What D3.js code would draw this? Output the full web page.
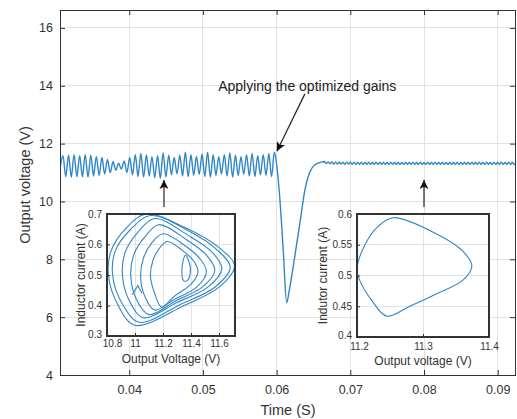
<!DOCTYPE html>
<html>
<head>
<meta charset="utf-8">
<script src="https://cdnjs.cloudflare.com/ajax/libs/d3/7.8.5/d3.min.js"></script>
<style>
body{margin:0;background:#fff;}
svg{display:block;font-family:"Liberation Sans",Arial,Helvetica,sans-serif;}
</style>
</head>
<body>
<div id="graph"></div>
<script>
// main axis ticks
const xTicks = [0.04,0.05,0.06,0.07,0.08,0.09];
const yTicks = [4,6,8,10,12,14,16];

// output voltage before the gains are applied (peaks and troughs)
const preTime = [0.03060,
	0.03100,0.03138,0.03176,0.03213,0.03251,0.03289,0.03327,0.03364,0.03402,0.03440,
	0.03478,0.03515,0.03553,0.03591,0.03629,0.03666,0.03704,0.03742,0.03780,0.03817,
	0.03855,0.03893,0.03931,0.03968,0.04006,0.04044,0.04082,0.04119,0.04157,0.04195,
	0.04233,0.04270,0.04308,0.04346,0.04384,0.04421,0.04459,0.04497,0.04535,0.04572,
	0.04610,0.04648,0.04686,0.04723,0.04761,0.04799,0.04837,0.04874,0.04912,0.04950,
	0.04988,0.05025,0.05063,0.05101,0.05139,0.05176,0.05214,0.05252,0.05290,0.05327,
	0.05365,0.05403,0.05441,0.05478,0.05516,0.05554,0.05592,0.05629,0.05667,0.05705,
	0.05743,0.05780,0.05818,0.05856,0.05894,0.05931,0.05969];
const preVolt = [11.15,
	11.58,10.86,11.60,10.84,11.62,10.86,11.58,10.85,11.62,10.84,
	11.60,10.88,11.56,10.90,11.52,10.95,11.45,11.00,11.38,11.08,
	11.32,11.12,11.40,11.00,11.52,10.92,11.62,10.86,11.66,10.84,
	11.62,10.88,11.55,10.82,11.58,10.80,11.68,10.85,11.60,10.92,
	11.52,10.96,11.60,10.88,11.70,10.86,11.62,10.90,11.56,10.94,
	11.64,10.86,11.70,10.84,11.62,10.90,11.55,10.95,11.62,10.88,
	11.68,10.84,11.60,10.90,11.55,10.94,11.62,10.88,11.66,10.86,
	11.58,10.92,11.62,10.90,11.66,10.86,11.70];

// transient after applying the optimized gains
const transTime = [0.06004,0.06045,0.06090,0.06136,0.06170,0.06225,0.06316,0.06384,0.06452,0.06520,0.06611];
const transVolt = [11.20,10.05,8.30,6.50,6.90,7.75,9.26,10.40,11.03,11.27,11.36];

// steady state with small ripple
const postTime = [
	0.06650,0.06675,0.06700,0.06725,0.06750,0.06775,0.06800,0.06825,0.06850,0.06875,
	0.06900,0.06925,0.06950,0.06975,0.07000,0.07025,0.07050,0.07075,0.07100,0.07125,
	0.07150,0.07175,0.07200,0.07225,0.07250,0.07275,0.07300,0.07325,0.07350,0.07375,
	0.07400,0.07425,0.07450,0.07475,0.07500,0.07525,0.07550,0.07575,0.07600,0.07625,
	0.07650,0.07675,0.07700,0.07725,0.07750,0.07775,0.07800,0.07825,0.07850,0.07875,
	0.07900,0.07925,0.07950,0.07975,0.08000,0.08025,0.08050,0.08075,0.08100,0.08125,
	0.08150,0.08175,0.08200,0.08225,0.08250,0.08275,0.08300,0.08325,0.08350,0.08375,
	0.08400,0.08425,0.08450,0.08475,0.08500,0.08525,0.08550,0.08575,0.08600,0.08625,
	0.08650,0.08675,0.08700,0.08725,0.08750,0.08775,0.08800,0.08825,0.08850,0.08875,
	0.08900,0.08925,0.08950,0.08975,0.09000,0.09025,0.09050,0.09075,0.09100,0.09125,
	0.09150,0.09175,0.09200,0.09225,0.09250];
const postVolt = [
	11.38,11.31,11.37,11.30,11.37,11.29,11.37,11.29,11.36,11.29,
	11.36,11.28,11.36,11.29,11.36,11.28,11.36,11.28,11.36,11.28,
	11.36,11.28,11.35,11.28,11.36,11.28,11.35,11.28,11.36,11.28,
	11.35,11.28,11.36,11.28,11.35,11.28,11.36,11.28,11.35,11.28,
	11.36,11.28,11.35,11.28,11.36,11.28,11.35,11.28,11.36,11.28,
	11.35,11.28,11.36,11.28,11.35,11.28,11.36,11.28,11.35,11.28,
	11.36,11.28,11.35,11.28,11.36,11.28,11.35,11.28,11.36,11.28,
	11.35,11.28,11.36,11.28,11.35,11.28,11.36,11.28,11.35,11.28,
	11.36,11.28,11.35,11.28,11.36,11.28,11.35,11.28,11.36,11.28,
	11.35,11.28,11.36,11.28,11.35,11.28,11.36,11.28,11.35,11.28,
	11.36,11.28,11.35,11.28,11.36];

// left inset: phase portrait before (voltage, current)
const inset1XTicks = [10.8,11,11.2,11.4,11.6];
const inset1YTicks = [0.3,0.4,0.5,0.6,0.7];
const inset1Loops = [
	[[11.08,0.700],[11.36,0.655],[11.60,0.590],[11.71,0.530],[11.60,0.460],[11.35,0.400],[11.00,0.335],[10.88,0.400],[10.81,0.500],[10.83,0.580],[10.94,0.655]],
	[[11.11,0.695],[11.38,0.645],[11.58,0.585],[11.68,0.525],[11.57,0.460],[11.33,0.405],[11.03,0.345],[10.91,0.405],[10.84,0.500],[10.86,0.580],[10.97,0.650]],
	[[11.14,0.685],[11.38,0.630],[11.55,0.575],[11.62,0.520],[11.52,0.460],[11.30,0.410],[11.06,0.360],[10.96,0.415],[10.91,0.500],[10.93,0.575],[11.02,0.640]],
	[[11.17,0.665],[11.37,0.615],[11.51,0.565],[11.57,0.515],[11.48,0.460],[11.29,0.415],[11.10,0.370],[11.01,0.420],[10.97,0.495],[10.99,0.565],[11.07,0.625]],
	[[11.20,0.635],[11.36,0.595],[11.47,0.550],[11.51,0.510],[11.44,0.460],[11.28,0.420],[11.14,0.385],[11.07,0.430],[11.04,0.495],[11.06,0.555],[11.12,0.605]],
	[[11.23,0.610],[11.34,0.580],[11.42,0.545],[11.45,0.510],[11.40,0.470],[11.28,0.430],[11.19,0.395],[11.14,0.440],[11.11,0.500],[11.13,0.550],[11.17,0.585]],
	[[11.36,0.565],[11.395,0.525],[11.38,0.485],[11.35,0.480],[11.335,0.520]]
];
const inset1Spike = [[10.98,0.435],[11.02,0.465],[11.05,0.440]];

// right inset: phase portrait after
const inset2XTicks = [11.2,11.3,11.4];
const inset2YTicks = [0.4,0.45,0.5,0.55,0.6];
const inset2Loop = [[11.255,0.594],[11.32,0.568],[11.36,0.540],[11.374,0.515],[11.36,0.492],[11.32,0.470],
	[11.28,0.450],[11.245,0.434],[11.222,0.460],[11.205,0.490],[11.200,0.510],[11.212,0.550],[11.232,0.580]];

const w = 517;
const h = 419;
const padding_left = 60;
const padding_top = 10;
const padding_right = 2;
const padding_bottom = 44;
const textColor = '#333';
const gridColor = '#e2e2e2';
const lineColor = '#2f86c6';
const fmt = d3.format('~g');

const svg = d3.select('#graph')
	.append('svg')
	.attr('width',w)
	.attr('height',h);

const xScale = d3.scaleLinear()
	.domain([0.0306,0.09235])
	.range([padding_left,w-padding_right]);
const yScale = d3.scaleLinear()
	.domain([4,16.62])
	.range([h-padding_bottom,padding_top]);

const defs = svg.append('defs');
defs.append('clipPath').attr('id','plotclip')
	.append('rect')
	.attr('x',padding_left).attr('y',padding_top)
	.attr('width',w-padding_right-padding_left).attr('height',h-padding_bottom-padding_top);
defs.append('marker')
	.attr('id','head')
	.attr('viewBox','0 0 10 10')
	.attr('refX',10).attr('refY',5)
	.attr('markerWidth',9).attr('markerHeight',9)
	.attr('markerUnits','userSpaceOnUse')
	.attr('orient','auto')
	.append('path')
	.attr('d','M0,0 L10,5 L0,10 L2.5,5 z')
	.attr('fill','#111');

//grid
svg.append('g').selectAll('line').data(xTicks).enter().append('line')
	.attr('x1',d => xScale(d)).attr('x2',d => xScale(d))
	.attr('y1',padding_top).attr('y2',h-padding_bottom)
	.attr('stroke',gridColor).attr('shape-rendering','crispEdges');
svg.append('g').selectAll('line').data(yTicks).enter().append('line')
	.attr('x1',padding_left).attr('x2',w-padding_right)
	.attr('y1',d => yScale(d)).attr('y2',d => yScale(d))
	.attr('stroke',gridColor).attr('shape-rendering','crispEdges');

//series
const series = [];
[[preTime,preVolt],[transTime,transVolt],[postTime,postVolt]].forEach(([t,v]) => {
	t.forEach((d,i) => series.push([d,v[i]]));
});
const line = d3.line()
	.x(d => xScale(d[0]))
	.y(d => yScale(d[1]))
	.curve(d3.curveMonotoneX);
svg.append('path')
	.datum(series)
	.attr('d',line)
	.attr('clip-path','url(#plotclip)')
	.attr('fill','none')
	.attr('stroke',lineColor)
	.attr('stroke-width',1.4);

//axes (ticks pointing inwards)
function styleAxis(g) {
	g.select('.domain').remove();
	g.selectAll('.tick line').attr('stroke','#333');
	g.selectAll('.tick text').attr('fill',textColor).style('font-size','12.5px');
}
svg.append('g')
	.attr('transform','translate(0,'+(h-padding_bottom)+')')
	.call(d3.axisBottom(xScale).tickValues(xTicks).tickSize(-5).tickPadding(10).tickFormat(d3.format('.2f')))
	.call(styleAxis);
svg.append('g')
	.attr('transform','translate(0,'+padding_top+')')
	.call(d3.axisTop(xScale).tickValues(xTicks).tickSize(-5).tickFormat(''))
	.call(styleAxis);
svg.append('g')
	.attr('transform','translate('+padding_left+',0)')
	.call(d3.axisLeft(yScale).tickValues(yTicks).tickSize(-5).tickPadding(7))
	.call(styleAxis);
svg.append('g')
	.attr('transform','translate('+(w-padding_right)+',0)')
	.call(d3.axisRight(yScale).tickValues(yTicks).tickSize(-5).tickFormat(''))
	.call(styleAxis);
svg.append('rect')
	.attr('x',padding_left).attr('y',padding_top)
	.attr('width',w-padding_right-padding_left).attr('height',h-padding_bottom-padding_top)
	.attr('fill','none').attr('stroke','#333').attr('stroke-width',1)
	.attr('shape-rendering','crispEdges');

//labels
svg.append('text')
	.text('Time (S)')
	.attr('x',288).attr('y',415)
	.attr('text-anchor','middle')
	.attr('fill',textColor).style('font-size','14.5px');
svg.append('text')
	.text('Output voltage (V)')
	.attr('transform','translate(30,185) rotate(-90)')
	.attr('text-anchor','middle')
	.attr('fill',textColor).style('font-size','14.5px');

//annotation
svg.append('text')
	.text('Applying the optimized gains')
	.attr('x',xScale(0.05206)).attr('y',yScale(13.83))
	.attr('fill','#222').style('font-size','14px');
function arrow(t1,v1,t2,v2) {
	svg.append('line')
		.attr('x1',xScale(t1)).attr('y1',yScale(v1))
		.attr('x2',xScale(t2)).attr('y2',yScale(v2))
		.attr('stroke','#222').attr('stroke-width',1.2)
		.attr('marker-end','url(#head)');
}
arrow(0.06383,13.72,0.06004,11.74);
arrow(0.04471,9.81,0.04471,10.74);
arrow(0.08,9.81,0.08,10.74);

//insets
function drawInset(o) {
	const g = svg.append('g');
	const xs = d3.scaleLinear().domain(o.xDomain).range([o.x0,o.x1]);
	const ys = d3.scaleLinear().domain(o.yDomain).range([o.y1,o.y0]);
	const id = 'clip'+o.name;
	defs.append('clipPath').attr('id',id)
		.append('rect').attr('x',o.x0).attr('y',o.y0).attr('width',o.x1-o.x0).attr('height',o.y1-o.y0);
	g.append('rect')
		.attr('x',o.x0).attr('y',o.y0).attr('width',o.x1-o.x0).attr('height',o.y1-o.y0)
		.attr('fill','#fff');
	g.append('g').selectAll('line').data(o.xTicks).enter().append('line')
		.attr('x1',d => xs(d)).attr('x2',d => xs(d)).attr('y1',o.y0).attr('y2',o.y1)
		.attr('stroke',gridColor).attr('shape-rendering','crispEdges');
	g.append('g').selectAll('line').data(o.yTicks).enter().append('line')
		.attr('x1',o.x0).attr('x2',o.x1).attr('y1',d => ys(d)).attr('y2',d => ys(d))
		.attr('stroke',gridColor).attr('shape-rendering','crispEdges');
	const loop = d3.line().x(d => xs(d[0])).y(d => ys(d[1])).curve(d3.curveCatmullRomClosed.alpha(0.5));
	o.loops.forEach(l => {
		g.append('path').datum(l).attr('d',loop)
			.attr('clip-path','url(#'+id+')')
			.attr('fill','none').attr('stroke',lineColor).attr('stroke-width',1.1);
	});
	if (o.open) {
		g.append('path').datum(o.open)
			.attr('d',d3.line().x(d => xs(d[0])).y(d => ys(d[1])))
			.attr('fill','none').attr('stroke',lineColor).attr('stroke-width',1.1);
	}
	g.append('g')
		.attr('transform','translate(0,'+o.y1+')')
		.call(d3.axisBottom(xs).tickValues(o.xTicks).tickSize(-3).tickPadding(o.xPad).tickFormat(fmt))
		.call(a => {
			a.select('.domain').remove();
			a.selectAll('.tick line').attr('stroke','#333');
			a.selectAll('.tick text').attr('fill',textColor).style('font-size','10px')
				.attr('dx',(d,i) => i === 0 ? o.firstShift : 0);
		});
	g.append('g')
		.attr('transform','translate('+o.x0+',0)')
		.call(d3.axisLeft(ys).tickValues(o.yTicks).tickSize(-3).tickPadding(5).tickFormat(fmt))
		.call(a => {
			a.select('.domain').remove();
			a.selectAll('.tick line').attr('stroke','#333');
			a.selectAll('.tick text').attr('fill',textColor).style('font-size','10px')
				.attr('dy',(d,i) => i === 0 ? '0.1em' : '0.32em');
		});
	g.append('rect')
		.attr('x',o.x0).attr('y',o.y0).attr('width',o.x1-o.x0).attr('height',o.y1-o.y0)
		.attr('fill','none').attr('stroke','#333').attr('stroke-width',1.2)
		.attr('shape-rendering','crispEdges');
	g.append('text')
		.text(o.xLabel)
		.attr('x',(o.x0+o.x1)/2).attr('y',o.xLabelY)
		.attr('text-anchor','middle')
		.attr('fill',textColor).style('font-size','12px');
	g.append('text')
		.text(o.yLabel)
		.attr('transform','translate('+o.yLabelX+','+((o.y0+o.y1)/2)+') rotate(-90)')
		.attr('text-anchor','middle')
		.attr('fill',textColor).style('font-size','12px');
}

drawInset({
	name:'a', x0:107, x1:235, y0:214, y1:336,
	xDomain:[10.8,11.714], yDomain:[0.3,0.7],
	xTicks:inset1XTicks, yTicks:inset1YTicks,
	loops:inset1Loops, open:inset1Spike,
	xPad:4, firstShift:5, xLabel:'Output Voltage (V)', xLabelY:363,
	yLabel:'Inductor current (A)', yLabelX:85
});
drawInset({
	name:'b', x0:357, x1:489, y0:214, y1:337,
	xDomain:[11.2,11.4], yDomain:[0.4,0.6],
	xTicks:inset2XTicks, yTicks:inset2YTicks,
	loops:[inset2Loop], open:null,
	xPad:6, firstShift:2, xLabel:'Output voltage (V)', xLabelY:365,
	yLabel:'Indutor current (A)', yLabelX:327
});
</script>
</body>
</html>
